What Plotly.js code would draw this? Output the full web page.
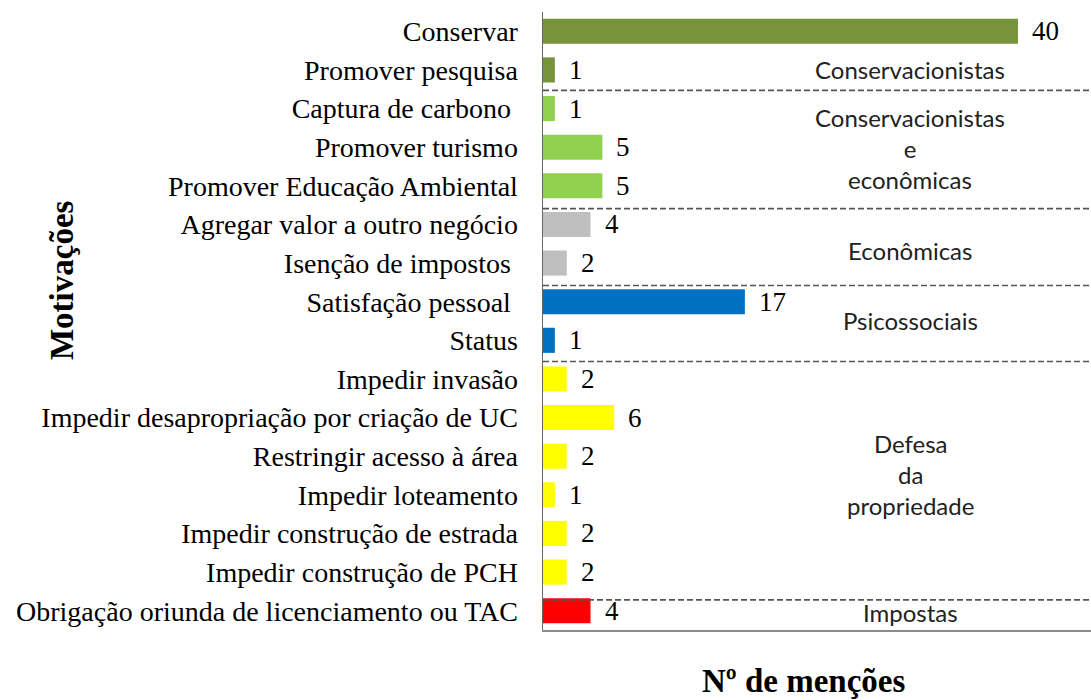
<!DOCTYPE html>
<html>
<head>
<meta charset="utf-8">
<script src="https://cdn.plot.ly/plotly-3.0.1.min.js"></script>
<style>
  html, body { margin: 0; padding: 0; background: #fff; }
  #chart { width: 1091px; height: 700px; }
</style>
</head>
<body>
<div id="chart"></div>
<script>
// ---- Data ----
const categories = [
  "Conservar",
  "Promover pesquisa",
  "Captura de carbono\u00A0",
  "Promover turismo",
  "Promover Educação Ambiental",
  "Agregar valor a outro negócio",
  "Isenção de impostos\u00A0",
  "Satisfação pessoal\u00A0",
  "Status",
  "Impedir invasão",
  "Impedir desapropriação por criação de UC",
  "Restringir acesso à área",
  "Impedir loteamento",
  "Impedir construção de estrada",
  "Impedir construção de PCH",
  "Obrigação oriunda de licenciamento ou TAC"
];
const values = [40, 1, 1, 5, 5, 4, 2, 17, 1, 2, 6, 2, 1, 2, 2, 4];
const groupOf = [0, 0, 1, 1, 1, 2, 2, 3, 3, 4, 4, 4, 4, 4, 4, 5];
const groupNames = [
  "Conservacionistas",
  "Conservacionistas<br>e<br>econômicas",
  "Econômicas",
  "Psicossociais",
  "Defesa<br>da<br>propriedade",
  "Impostas"
];
const axisTitleY = "Motivações";
const axisTitleX = "Nº de menções";

// ---- Styling ----
const groupColors = ["#77933C", "#92D050", "#BFBFBF", "#0070C0", "#FFFF00", "#FF0000"];
const groupLabelY = [1.0, 3.03, 5.67, 7.49, 11.48, 15.05];   // label centres (row units)
const dividerOffset = [0.03, 0.09, 0.08, 0.05, 0.22];         // fine tuning of dashed rules

const serif = "Liberation Serif, Times New Roman, serif";
const sans = "Lato, Noto Sans, sans-serif";

const barColors = groupOf.map(g => groupColors[g]);

const trace = {
  type: "bar",
  orientation: "h",
  x: values,
  y: categories,
  marker: { color: barColors, line: { width: 0 } },
  hoverinfo: "x+y"
};

const annotations = [];
// value labels
values.forEach((v, i) => {
  annotations.push({
    x: v, y: categories[i], xref: "x", yref: "y",
    text: String(v), showarrow: false, xanchor: "left", yanchor: "middle",
    xshift: 12, font: { family: serif, size: 27, color: "#000" }
  });
});
// group labels
groupNames.forEach((g, k) => {
  annotations.push({
    x: 0.67, xref: "paper", y: groupLabelY[k], yref: "y",
    text: g, showarrow: false, xanchor: "center", yanchor: "middle",
    align: "center", font: { family: sans, size: 24, color: "#222" }
  });
});
// axis titles
annotations.push({
  x: -0.878, xref: "paper", y: 0.566, yref: "paper", text: "<b>" + axisTitleY + "</b>",
  textangle: -90, showarrow: false, xanchor: "center", yanchor: "middle",
  font: { family: serif, size: 33, color: "#000" }
});
annotations.push({
  x: 0.477, xref: "paper", y: -0.082, yref: "paper", text: "<b>" + axisTitleX + "</b>",
  showarrow: false, xanchor: "center", yanchor: "middle",
  font: { family: serif, size: 33, color: "#000" }
});

// dashed dividers between groups
const shapes = [];
let d = 0;
for (let i = 0; i < groupOf.length - 1; i++) {
  if (groupOf[i] !== groupOf[i + 1]) {
    const yy = i + 0.5 + dividerOffset[d++];
    shapes.push({
      type: "line", xref: "paper", x0: 0, x1: 1, yref: "y", y0: yy, y1: yy,
      line: { color: "#555", width: 1.6, dash: "6px,3px" }
    });
  }
}

const layout = {
  width: 1091, height: 700,
  margin: { l: 543, r: 0, t: 12, b: 70, pad: 0 },
  paper_bgcolor: "#fff", plot_bgcolor: "#fff",
  showlegend: false,
  bargap: 0.35,
  xaxis: {
    range: [0, 46.15], showgrid: false, zeroline: false,
    showticklabels: false, ticks: "", showline: true,
    linecolor: "#8c8c8c", linewidth: 1.5, fixedrange: true
  },
  yaxis: {
    type: "category", autorange: "reversed", showgrid: false, zeroline: false,
    ticks: "", showline: true, linecolor: "#666", linewidth: 1.5,
    ticklabelstandoff: 18,
    tickfont: { family: serif, size: 28, color: "#000" }, fixedrange: true
  },
  annotations: annotations,
  shapes: shapes
};

Plotly.newPlot("chart", [trace], layout, { displayModeBar: false, staticPlot: true });
</script>
</body>
</html>
